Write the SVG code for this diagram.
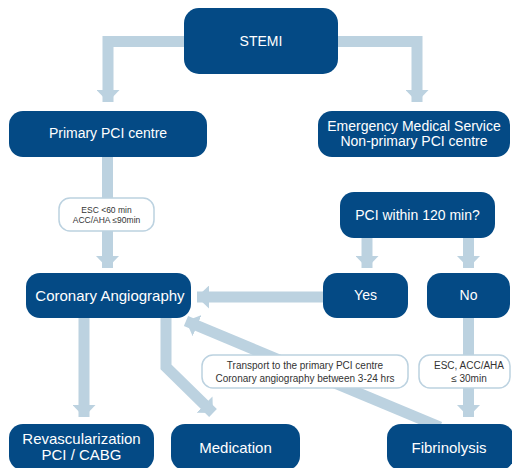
<svg xmlns="http://www.w3.org/2000/svg" width="512" height="468" viewBox="0 0 512 468">
  <defs>
    <marker id="ah" markerUnits="userSpaceOnUse" markerWidth="13" markerHeight="23" refX="12" refY="11.5" orient="auto" viewBox="0 0 13 23">
      <path d="M0,0 L12,11.5 L0,23 z" fill="#bcd2e0"/>
    </marker>
    <style>
      .conn { fill: none; stroke: #bcd2e0; stroke-width: 11; stroke-linejoin: miter; }
      .node rect { fill: #044a85; }
      .node text { fill: #ffffff; font-family: "Liberation Sans", Arial, sans-serif; font-size: 14px; text-anchor: middle; dominant-baseline: central; }
      .lbl rect { fill: #ffffff; stroke: #bcd2e0; stroke-width: 1.5; }
      .lbl text { fill: #333333; font-family: "Liberation Sans", Arial, sans-serif; font-size: 8.5px; text-anchor: middle; dominant-baseline: central; }
    </style>
  </defs>
  <rect width="512" height="468" fill="#ffffff"/>
  <g id="connectors">
    <polyline class="conn" points="186,41.5 108,41.5 108,102" marker-end="url(#ah)"/>
    <polyline class="conn" points="336,41.5 417,41.5 417,102" marker-end="url(#ah)"/>
    <polyline class="conn" points="107.5,157 107.5,268" marker-end="url(#ah)"/>
    <polyline class="conn" points="367,238 367,268" marker-end="url(#ah)"/>
    <polyline class="conn" points="468.5,238 468.5,268" marker-end="url(#ah)"/>
    <polyline class="conn" points="325,297 197,297" marker-end="url(#ah)"/>
    <polyline class="conn" points="84,318 84,417" marker-end="url(#ah)"/>
    <polyline class="conn" points="166,318 166,367 213,413" marker-end="url(#ah)"/>
    <polyline class="conn" points="440,427 186,321" marker-end="url(#ah)"/>
    <polyline class="conn" points="468.5,318 468.5,417" marker-end="url(#ah)"/>
  </g>
  <g id="label-esc60" class="lbl">
    <rect x="59" y="198" width="95" height="33" rx="11"/>
    <text x="106.5" y="210">ESC &lt;60 min</text>
    <text x="106.5" y="220">ACC/AHA ≤90min</text>
  </g>
  <g id="label-transport" class="lbl">
    <rect x="202" y="355" width="206" height="33" rx="11"/>
    <text x="305" y="365" style="font-size:10px">Transport to the primary PCI centre</text>
    <text x="305" y="378" style="font-size:10px">Coronary angiography between 3-24 hrs</text>
  </g>
  <g id="label-esc30" class="lbl">
    <rect x="419" y="355" width="91" height="33" rx="11"/>
    <text x="469" y="365" style="font-size:10px">ESC, ACC/AHA</text>
    <text x="469" y="378" style="font-size:10px">≤ 30min</text>
  </g>
  <g id="node-stemi" class="node">
    <rect x="184" y="8" width="154" height="66" rx="15"/>
    <text x="261" y="41">STEMI</text>
  </g>
  <g id="node-primary" class="node">
    <rect x="9" y="111" width="198" height="46" rx="14"/>
    <text x="108" y="133">Primary PCI centre</text>
  </g>
  <g id="node-ems" class="node">
    <rect x="318" y="111" width="192" height="46" rx="14"/>
    <text x="414" y="126">Emergency Medical Service</text>
    <text x="414" y="141">Non-primary PCI centre</text>
  </g>
  <g id="node-pci120" class="node">
    <rect x="340" y="192" width="155" height="46" rx="14"/>
    <text x="417.5" y="215">PCI within 120 min?</text>
  </g>
  <g id="node-angio" class="node">
    <rect x="26" y="273" width="165" height="45" rx="14"/>
    <text x="110" y="295" style="font-size:15px">Coronary Angiography</text>
  </g>
  <g id="node-yes" class="node">
    <rect x="323" y="273" width="85" height="45" rx="14"/>
    <text x="365.5" y="295">Yes</text>
  </g>
  <g id="node-no" class="node">
    <rect x="427" y="273" width="83" height="45" rx="14"/>
    <text x="468.5" y="295">No</text>
  </g>
  <g id="node-revasc" class="node">
    <rect x="9" y="424" width="145" height="46" rx="14"/>
    <text x="81.5" y="438" style="font-size:15px">Revascularization</text>
    <text x="81.5" y="454" style="font-size:15px">PCI / CABG</text>
  </g>
  <g id="node-medication" class="node">
    <rect x="171" y="424" width="129" height="46" rx="14"/>
    <text x="235.5" y="447" style="font-size:15px">Medication</text>
  </g>
  <g id="node-fibrinolysis" class="node">
    <rect x="387" y="424" width="127" height="46" rx="14"/>
    <text x="449" y="447" style="font-size:15px">Fibrinolysis</text>
  </g>
</svg>
